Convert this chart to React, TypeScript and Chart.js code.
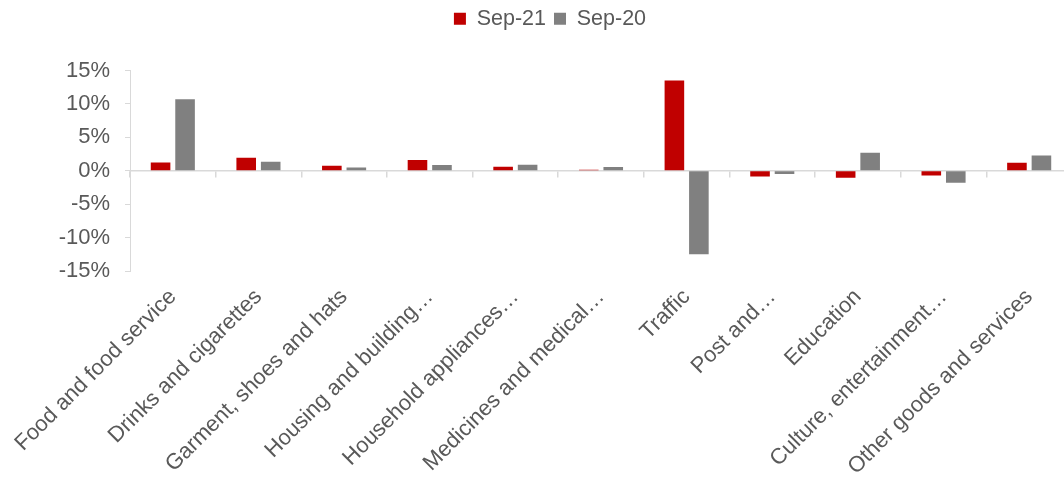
import React, { useEffect, useRef } from "react";
import { Chart, registerables } from "chart.js";

Chart.register(...registerables);

const categories = [
  "Food and food service",
  "Drinks and cigarettes",
  "Garment, shoes and hats",
  "Housing and building…",
  "Household appliances…",
  "Medicines and medical…",
  "Traffic",
  "Post and…",
  "Education",
  "Culture, entertainment…",
  "Other goods and services",
];

const sep21 = [1.23, 1.95, 0.75, 1.6, 0.6, 0.15, 13.5, -0.85, -1.05, -0.7, 1.2];
const sep20 = [10.7, 1.35, 0.5, 0.85, 0.9, 0.55, -12.5, -0.5, 2.7, -1.8, 2.3];

const seriesLabels = ["Sep-21", "Sep-20"];
const yMin = -15;
const yMax = 15;
const yStep = 5;

const FONT = "'Liberation Sans', Arial, sans-serif";
const TEXT = "#595959";
const AXIS = "#d9d9d9";

export default function App() {
  const ref = useRef<HTMLCanvasElement>(null);

  useEffect(() => {
    if (!ref.current) return;
    const legendGap = {
      id: "legendGap",
      beforeInit(chart: any) {
        const leg = chart.legend;
        if (!leg) return;
        const fit = leg.fit;
        leg.fit = function () {
          fit.call(this);
          this.height += 31;
        };
      },
      afterLayout(chart: any) {
        const leg = chart.legend;
        if (!leg) return;
        leg.left += 14;
        leg.right += 14;
      },
    };
    const chart = new Chart(ref.current, {
      type: "bar",
      data: {
        labels: categories,
        datasets: [
          { label: seriesLabels[0], data: sep21, backgroundColor: "#C00000", borderWidth: 0 },
          { label: seriesLabels[1], data: sep20, backgroundColor: "#808080", borderWidth: 0 },
        ],
      },
      options: {
        responsive: false,
        animation: false,
        layout: { padding: { left: 0, right: 28, top: 0, bottom: 0 } },
        datasets: { bar: { categoryPercentage: 0.572, barPercentage: 0.8 } },
        plugins: {
          legend: {
            position: "top",
            labels: {
              boxWidth: 12,
              boxHeight: 12,
              padding: 8,
              color: TEXT,
              font: { family: FONT, size: 21.5 },
            },
          },
          tooltip: { enabled: false },
        },
        scales: {
          x: {
            type: "category",
            position: "bottom",
            offset: true,
            grid: { display: false, drawTicks: false },
            border: { display: false },
            ticks: {
              autoSkip: false,
              maxRotation: 45,
              minRotation: 45,
              padding: 13,
              color: TEXT,
              font: { family: FONT, size: 22 },
            },
            afterFit: (s: any) => {
              s.height = 207;
              s.paddingLeft = 0;
              s.paddingRight = 0;
            },
          },
          xZero: {
            type: "category",
            position: { y: 0 },
            offset: true,
            grid: { offset: true, drawOnChartArea: false, drawTicks: true, tickLength: 6, color: AXIS, lineWidth: 1.5 },
            border: { display: true, color: AXIS, width: 1.5 },
            ticks: { display: false },
          },
          y: {
            min: yMin,
            max: yMax,
            ticks: {
              stepSize: yStep,
              padding: 15,
              color: TEXT,
              font: { family: FONT, size: 22 },
              callback: (v: any) => v + "%",
            },
            grid: { drawOnChartArea: false, drawTicks: true, tickLength: 5, color: AXIS },
            border: { display: true, color: AXIS, width: 1 },
            afterFit: (s: any) => {
              s.width = 130;
            },
          },
        },
      } as any,
      plugins: [legendGap],
    });
    return () => chart.destroy();
  }, []);

  return (
    <div style={{ position: "fixed", left: 0, top: 0, width: 1064, height: 478, overflow: "hidden", background: "#fff" }}>
      <canvas ref={ref} width={1100} height={478} style={{ width: 1100, height: 478, display: "block" }} />
    </div>
  );
}
